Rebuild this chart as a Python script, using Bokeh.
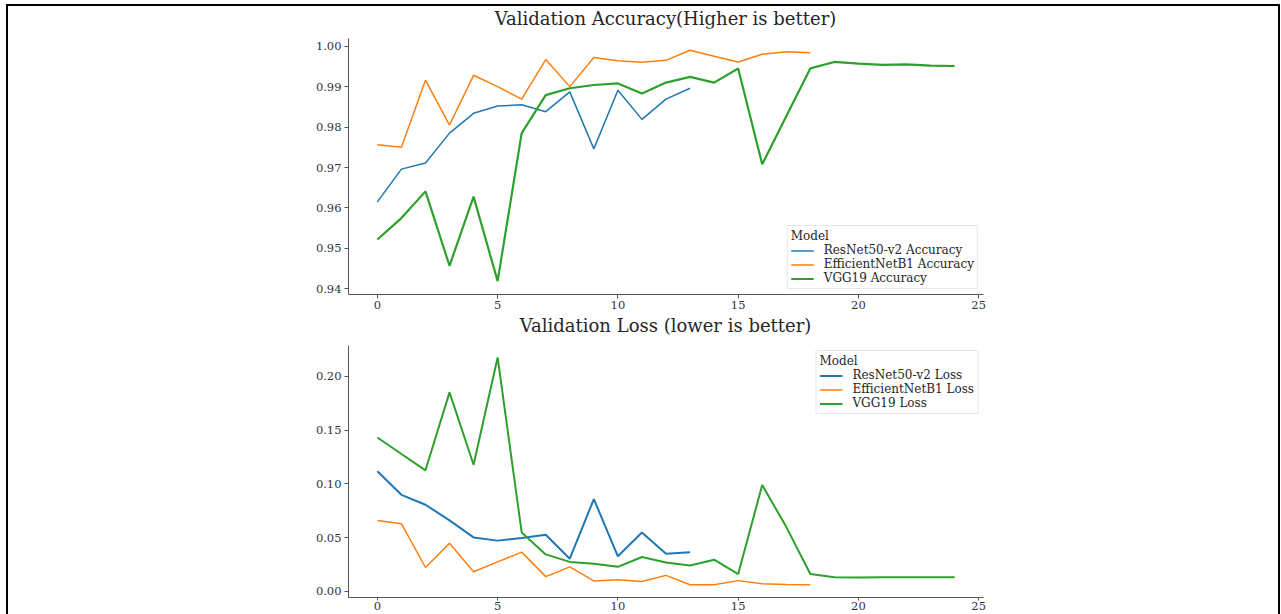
from bokeh.plotting import figure
from bokeh.layouts import column
from bokeh.models import FixedTicker, Range1d, Legend, LegendItem, PrintfTickFormatter, Div
from bokeh.embed import file_html
from bokeh.resources import INLINE

# ---- data ----
epochs_resnet = list(range(14))
epochs_eff = list(range(19))
epochs_vgg = list(range(25))

acc_resnet = [0.9615, 0.9696, 0.9711, 0.9785, 0.9834, 0.9852, 0.9855, 0.9838, 0.9887,
              0.9746, 0.9891, 0.9819, 0.9869, 0.9896]
acc_eff = [0.9756, 0.9750, 0.9916, 0.9805, 0.9928, 0.9900, 0.9869, 0.9967, 0.9900,
           0.9972, 0.9964, 0.9960, 0.9965, 0.9990, 0.9975, 0.9961, 0.9980, 0.9986, 0.9984]
acc_vgg = [0.9522, 0.9575, 0.9641, 0.9457, 0.9628, 0.9419, 0.9785, 0.9879, 0.9896,
           0.9904, 0.9908, 0.9883, 0.9910, 0.9924, 0.9910, 0.9945, 0.9708, 0.9827,
           0.9945, 0.9961, 0.9957, 0.9954, 0.9955, 0.9952, 0.9951]

loss_resnet = [0.1117, 0.0898, 0.0806, 0.0660, 0.0502, 0.0472, 0.0496, 0.0527, 0.0304,
               0.0858, 0.0326, 0.0548, 0.0350, 0.0365]
loss_eff = [0.0660, 0.0630, 0.0222, 0.0447, 0.0183, 0.0274, 0.0365, 0.0137, 0.0228,
            0.0097, 0.0107, 0.0091, 0.0149, 0.0061, 0.0061, 0.0100, 0.0070, 0.0064, 0.0061]
loss_vgg = [0.1431, 0.1278, 0.1126, 0.1851, 0.1178, 0.2176, 0.0548, 0.0344, 0.0274,
            0.0258, 0.0228, 0.0320, 0.0268, 0.0240, 0.0295, 0.0161, 0.0989, 0.0600,
            0.0161, 0.0131, 0.0130, 0.0132, 0.0132, 0.0131, 0.0132]

x_ticks = [0, 5, 10, 15, 20, 25]
acc_ticks = [0.94, 0.95, 0.96, 0.97, 0.98, 0.99, 1.00]
loss_ticks = [0.00, 0.05, 0.10, 0.15, 0.20]

acc_title = "Validation Accuracy(Higher is better)"
loss_title = "Validation Loss (lower is better)"
acc_labels = ["ResNet50-v2 Accuracy", "EfficientNetB1 Accuracy", "VGG19 Accuracy"]
loss_labels = ["ResNet50-v2 Loss", "EfficientNetB1 Loss", "VGG19 Loss"]

BLUE, ORANGE, GREEN = "#1f77b4", "#ff7f0e", "#2ca02c"
FONT = "DejaVu Serif"


def make_title(text):
    html = ('<div style="margin-left:45px;width:1225px;text-align:center;'
            'padding-top:3px;font-family:\'DejaVu Serif\';font-size:18px;'
            'line-height:19px;color:#262626;white-space:nowrap;">' + text + '</div>')
    return Div(text=html, width=1270, height=22, margin=0)


def make_fig(height, y_range, yticks, top_border, bottom_border, xtick_out, xstandoff):
    p = figure(width=1270, height=height, output_backend="svg", toolbar_location=None,
               x_range=Range1d(-1.2, 25.2), y_range=y_range,
               min_border_left=340, min_border_right=295,
               min_border_top=top_border, min_border_bottom=bottom_border)
    p.xgrid.visible = False
    p.ygrid.visible = False
    p.outline_line_color = None
    p.background_fill_color = "white"
    p.border_fill_color = "white"
    p.xaxis.ticker = FixedTicker(ticks=x_ticks)
    p.yaxis.ticker = FixedTicker(ticks=yticks)
    p.yaxis.formatter = PrintfTickFormatter(format="%.2f")
    for ax in (p.xaxis[0], p.yaxis[0]):
        ax.axis_line_color = "#555555"
        ax.axis_line_width = 1
        ax.major_tick_line_color = "#555555"
        ax.major_tick_in = 0
        ax.major_tick_out = 4
        ax.minor_tick_line_color = None
        ax.major_label_text_font = FONT
        ax.major_label_text_font_size = "11.5px"
        ax.major_label_text_color = "#333333"
        ax.major_label_standoff = 3
    p.xaxis.major_tick_out = xtick_out
    p.xaxis.major_label_standoff = xstandoff
    return p


def style_legend(lg):
    lg.title = "Model"
    lg.title_text_font = FONT
    lg.title_text_font_size = "12px"
    lg.title_text_font_style = "normal"
    lg.title_text_color = "#262626"
    lg.title_standoff = 0
    lg.label_text_font = FONT
    lg.label_text_font_size = "12px"
    lg.label_text_color = "#262626"
    lg.label_height = 13
    lg.glyph_height = 13
    lg.glyph_width = 23
    lg.label_standoff = 10
    lg.spacing = 0
    lg.padding = 3
    lg.margin = 5
    lg.border_line_color = "#d0d0d0"
    lg.background_fill_alpha = 0.85


# ---- accuracy ----
t1 = make_title(acc_title)
p1 = make_fig(285, Range1d(0.9386, 1.0019), acc_ticks, 10, 19, 4, 2)
r1 = p1.line(epochs_resnet, acc_resnet, line_color=BLUE, line_width=1.5)
r2 = p1.line(epochs_eff, acc_eff, line_color=ORANGE, line_width=1.5)
r3 = p1.line(epochs_vgg, acc_vgg, line_color=GREEN, line_width=2.2)
lg1 = Legend(items=[LegendItem(label=acc_labels[0], renderers=[r1]),
                    LegendItem(label=acc_labels[1], renderers=[r2]),
                    LegendItem(label=acc_labels[2], renderers=[r3])],
             location="bottom_right")
style_legend(lg1)
p1.add_layout(lg1)

# ---- loss ----
t2 = make_title(loss_title)
p2 = make_fig(279, Range1d(-0.0057, 0.2287), loss_ticks, 10, 17, 3, 1)
s1 = p2.line(epochs_resnet, loss_resnet, line_color=BLUE, line_width=2)
s2 = p2.line(epochs_eff, loss_eff, line_color=ORANGE, line_width=1.5)
s3 = p2.line(epochs_vgg, loss_vgg, line_color=GREEN, line_width=2)
lg2 = Legend(items=[LegendItem(label=loss_labels[0], renderers=[s1]),
                    LegendItem(label=loss_labels[1], renderers=[s2]),
                    LegendItem(label=loss_labels[2], renderers=[s3])],
             location="top_right")
style_legend(lg2)
p2.add_layout(lg2)

layout = column(t1, p1, t2, p2, spacing=0,
                styles={"border-left": "2px solid black",
                        "border-right": "2px solid black",
                        "border-top": "2px solid black",
                        "margin-left": "6px",
                        "margin-top": "4px"})

open("out.html", "w").write(file_html(layout, INLINE))
